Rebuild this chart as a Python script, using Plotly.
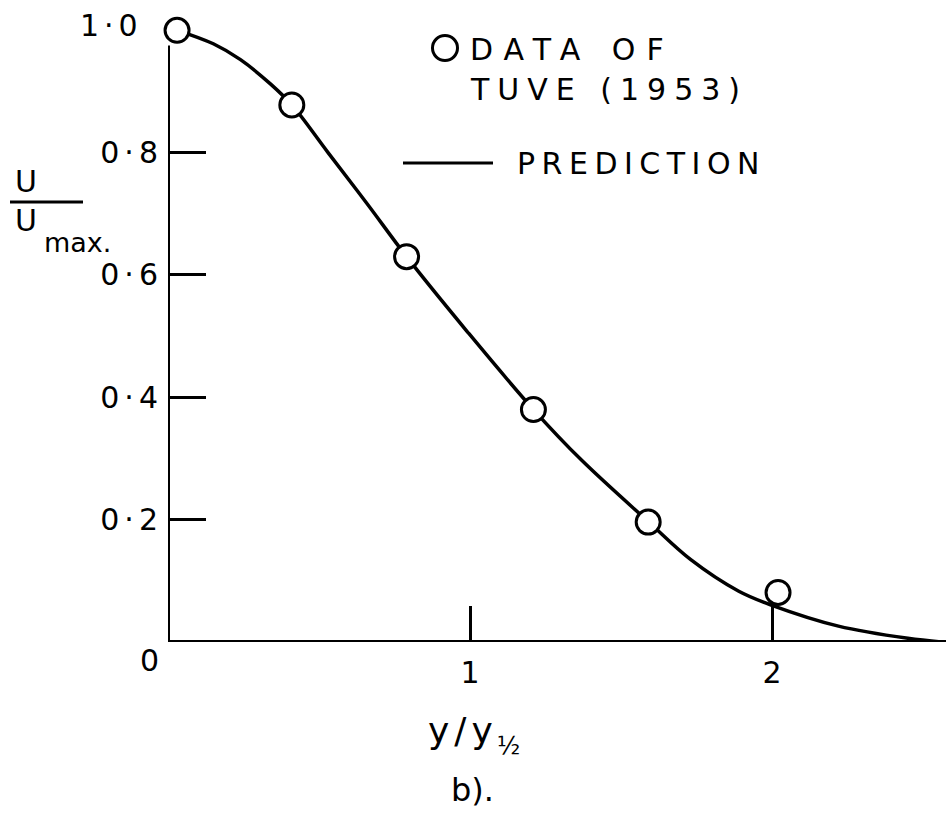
import plotly.graph_objects as go

# ---- data ----
tuve_x = [0.03, 0.41, 0.79, 1.21, 1.59, 2.02]
tuve_y = [1.0, 0.878, 0.630, 0.380, 0.196, 0.081]

pred_x = [0.03, 0.15, 0.24, 0.34, 0.41, 0.53, 0.66, 0.79, 0.99, 1.21, 1.37, 1.59, 1.73, 1.89, 2.00, 2.22, 2.45, 2.56]
pred_y = [1.0, 0.978, 0.952, 0.912, 0.878, 0.800, 0.716, 0.630, 0.508, 0.380, 0.297, 0.197, 0.135, 0.083, 0.060, 0.026, 0.006, 0.0]

x_tick_vals = [1, 2]
x_tick_labels = ["1", "2"]
y_tick_vals = [0.2, 0.4, 0.6, 0.8]
y_tick_labels = ["0·2", "0·4", "0·6", "0·8"]
top_label = "1·0"
origin_label = "0"
legend_data = ["DATA OF", "TUVE (1953)"]
legend_pred = "PREDICTION"
caption = "b)."

# ---- layout geometry ----
W, H = 946, 815
ML, MR, MT, MB = 168, 0, 6, 173
PW, PH = W - ML - MR, H - MT - MB
XPX = 302.0      # px per x unit
YPX = 611.7      # px per y unit
FONT = "DejaVu Sans"
INK = "#000000"


def px(xp):
    return (xp - ML) / PW


def py(yp):
    return (H - MB - yp) / PH


def spaced(t, s):
    return f'<span style="letter-spacing:{s}px">{t}</span>'


fig = go.Figure()

fig.add_trace(go.Scatter(
    x=pred_x, y=pred_y, mode="lines",
    line=dict(color=INK, width=3.5, shape="spline", smoothing=1.0),
    name="PREDICTION", showlegend=False, hoverinfo="skip",
))
fig.add_trace(go.Scatter(
    x=tuve_x, y=tuve_y, mode="markers",
    marker=dict(symbol="circle", size=24, color="white", line=dict(color=INK, width=3)),
    name="DATA OF TUVE (1953)", showlegend=False, cliponaxis=False,
))

shapes = [
    # y axis line (stops under the top data circle)
    dict(type="line", xref="x", yref="y", x0=0, x1=0, y0=0, y1=0.975,
         line=dict(color=INK, width=4), layer="below"),
    # x axis line
    dict(type="line", xref="paper", yref="y", x0=0, x1=1, y0=0, y1=0,
         line=dict(color=INK, width=4), layer="below"),
    # legend line
    dict(type="line", xref="paper", yref="paper", x0=px(403), x1=px(493), y0=py(163), y1=py(163),
         line=dict(color=INK, width=3)),
    # legend circle
    dict(type="circle", xref="paper", yref="paper", xsizemode="pixel", ysizemode="pixel",
         xanchor=px(445), yanchor=py(48), x0=-12.5, x1=12.5, y0=-12.5, y1=12.5,
         line=dict(color=INK, width=3), fillcolor="white"),
    # fraction bar of the y title
    dict(type="line", xref="paper", yref="paper", x0=px(10), x1=px(83), y0=py(202), y1=py(202),
         line=dict(color=INK, width=3)),
]

ann = []


def add_text(text, xp, yp, size, xanchor="center", yanchor="middle"):
    ann.append(dict(text=text, xref="paper", yref="paper", x=px(xp), y=py(yp),
                    xanchor=xanchor, yanchor=yanchor, showarrow=False,
                    font=dict(family=FONT, size=size, color=INK)))


add_text(spaced(legend_data[0], 11), 468, 50, 30, xanchor="left")
add_text(spaced(legend_data[1], 8), 468, 90, 30, xanchor="left")
add_text(spaced(legend_pred, 6.5), 515, 163, 30, xanchor="left")
add_text(spaced(top_label, 5), 145, 25, 30, xanchor="right")
add_text(origin_label, 149, 660, 30)
add_text("U", 26, 181, 30)
add_text("U", 26, 220, 30)
add_text("max.", 77, 242, 27)
add_text(spaced("y/y", 5), 463, 730, 36)
add_text("½", 508, 746, 24)
add_text(caption, 472, 790, 32)

fig.update_layout(
    width=W, height=H,
    margin=dict(l=ML, r=MR, t=MT, b=MB, pad=0),
    paper_bgcolor="white", plot_bgcolor="white",
    showlegend=False,
    font=dict(family=FONT, color=INK),
    shapes=shapes, annotations=ann,
    xaxis=dict(range=[0, PW / XPX], showgrid=False, zeroline=False, showline=False,
               tickmode="array", tickvals=x_tick_vals, ticktext=x_tick_labels,
               ticks="inside", ticklen=36, tickwidth=3, tickcolor=INK,
               tickfont=dict(family=FONT, size=30, color=INK), ticklabelstandoff=10),
    yaxis=dict(range=[0, PH / YPX], showgrid=False, zeroline=False, showline=False,
               tickmode="array", tickvals=y_tick_vals,
               ticktext=[spaced(t, 5) for t in y_tick_labels],
               ticks="inside", ticklen=38, tickwidth=3, tickcolor=INK,
               tickfont=dict(family=FONT, size=30, color=INK), ticklabelstandoff=4),
)

fig.write_html("out.html")
